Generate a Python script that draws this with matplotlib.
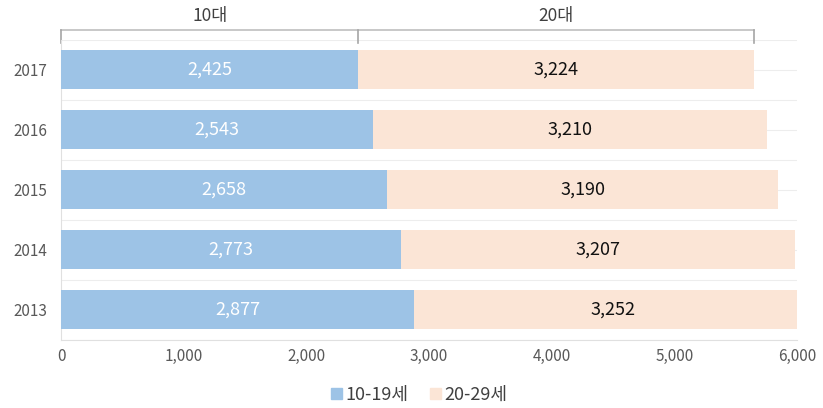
import matplotlib
matplotlib.use("Agg")
import matplotlib.pyplot as plt
from matplotlib.transforms import blended_transform_factory
from matplotlib.patches import Patch

plt.rcParams['font.family'] = ['Noto Sans CJK KR', 'DejaVu Sans']

years = ['2017', '2016', '2015', '2014', '2013']
teens = [2425, 2543, 2658, 2773, 2877]
twenties = [3224, 3210, 3190, 3207, 3252]
series_names = ['10-19세', '20-29세']
group_labels = ['10대', '20대']
xticks = [0, 1000, 2000, 3000, 4000, 5000, 6000]

c_blue = '#9DC3E6'
c_peach = '#FBE5D6'

fig = plt.figure(figsize=(8.23, 4.08), dpi=100)
ax = fig.add_axes([61/823, 1-339.5/408, (797-61)/823, 300/408])

ypos = list(range(len(years)))
ax.barh(ypos, teens, height=0.65, color=c_blue, zorder=3)
ax.barh(ypos, twenties, left=teens, height=0.65, color=c_peach, zorder=3)

for y, a, b in zip(ypos, teens, twenties):
    ax.text(a/2, y, f'{a:,}', ha='center', va='center', color='white', fontsize=13, zorder=4)
    ax.text(a + b/2, y, f'{b:,}', ha='center', va='center', color='#111111', fontsize=13, zorder=4)

ax.set_ylim(len(years)-0.5, -0.5)
ax.set_xlim(0, 6000)
ax.set_yticks(ypos)
ax.set_yticklabels(years)
ax.set_xticks(xticks)
ax.set_xticklabels([f'{v:,}' for v in xticks])
ax.tick_params(axis='both', length=0, labelsize=11, colors='#595959')
ax.tick_params(axis='x', pad=6)
ax.tick_params(axis='y', pad=10)

# faint horizontal gridlines
for g in [i - 0.5 for i in range(len(years)+1)] + ypos:
    ax.axhline(g, color='#EDEDED', lw=0.8, zorder=1)

for s in ['top', 'right']:
    ax.spines[s].set_visible(False)
ax.spines['bottom'].set_color('#E0E0E0')
ax.spines['left'].set_color('#E0E0E0')

# bracket on top
tr = blended_transform_factory(ax.transData, ax.transAxes)
y_top = (339.5-30)/300
y_bot = (339.5-43)/300
x0, x1, x2 = 0, teens[0], teens[0] + twenties[0]
ax.plot([x0, x2], [y_top, y_top], color='#BFBFBF', lw=1.2, transform=tr, clip_on=False)
for xx in (x0, x1, x2):
    ax.plot([xx, xx], [y_top, y_bot], color='#A6A6A6', lw=1.2, transform=tr, clip_on=False)
y_lab = (339.5-16)/300
ax.text((x0+x1)/2, y_lab, group_labels[0], ha='center', va='center', transform=tr, fontsize=12.5, color='#404040')
ax.text((x1+x2)/2, y_lab, group_labels[1], ha='center', va='center', transform=tr, fontsize=12.5, color='#404040')

handles = [Patch(color=c_blue), Patch(color=c_peach)]
fig.legend(handles, series_names, loc='center', bbox_to_anchor=(419/823, 1-395/408), ncol=2,
           frameon=False, fontsize=13, handlelength=0.6, handleheight=0.6, handletextpad=0.2,
           columnspacing=1.2, labelcolor='#404040')

fig.savefig('out.png', dpi=100)
